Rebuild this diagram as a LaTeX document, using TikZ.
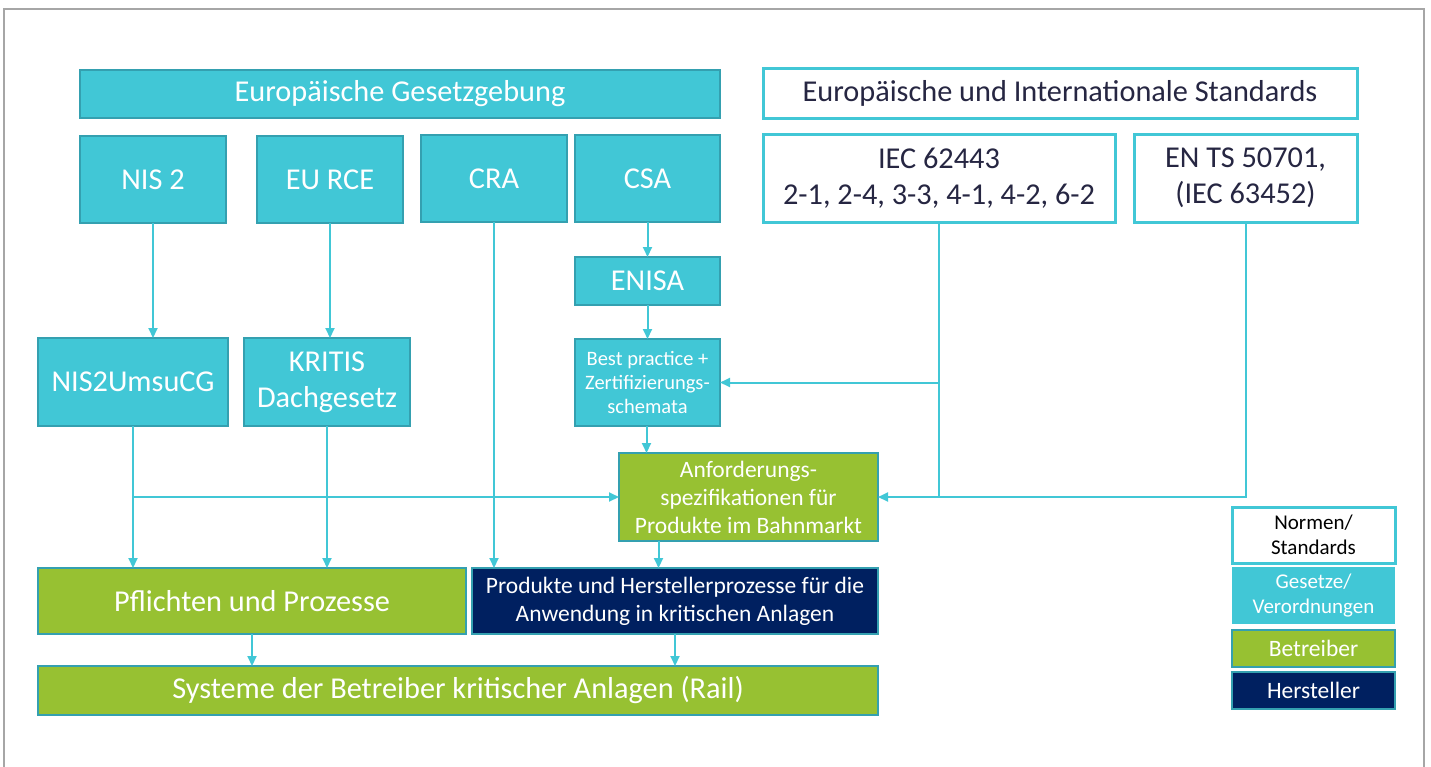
\documentclass[tikz,border=0pt]{standalone}
\usepackage{fontspec}
\setmainfont{Carlito}
\usetikzlibrary{arrows.meta}

\definecolor{lawcyan}{RGB}{65,199,214}
\definecolor{boxline}{RGB}{52,160,176}
\definecolor{opgreen}{RGB}{151,193,50}
\definecolor{mfrnavy}{RGB}{0,32,96}
\definecolor{normtext}{RGB}{38,38,66}
\definecolor{framegray}{RGB}{166,166,166}

\newcommand{\bigtext}{\fontsize{30.3}{36}\selectfont}
\newcommand{\midtext}{\fontsize{23.5}{28}\selectfont}
\newcommand{\smalltext}{\fontsize{20.5}{24}\selectfont}
\newcommand{\legendtext}{\fontsize{21}{25}\selectfont}
\newcommand{\legendbig}{\fontsize{23.5}{28}\selectfont}

\tikzset{
  box/.style={anchor=north west, inner sep=0pt, outer sep=0pt, align=center},
  law/.style={box, draw=boxline, line width=1.5pt, fill=lawcyan, text=white},
  norm/.style={box, draw=lawcyan, line width=3pt, fill=white, text=normtext},
  oper/.style={box, draw=boxline, line width=1.5pt, fill=opgreen, text=white},
  mfr/.style={box, draw=boxline, line width=1.5pt, fill=mfrnavy, text=white},
  link/.style={draw=lawcyan, line width=2pt}
}

\begin{document}
\begin{tikzpicture}[x=1pt, y=-1pt, >={Triangle[length=10pt,width=9pt]}]
  \useasboundingbox (0,0) rectangle (1431,766);
  \draw[framegray, line width=2pt] (4,775) -- (4,9) -- (1424,9) -- (1424,775);

  % legislation
  \node[law, minimum width=640, minimum height=48, font=\bigtext] (eulaw) at (80,70) {Europäische Gesetzgebung};
  \node[law, minimum width=146, minimum height=87, font=\bigtext] (nis) at (80,136) {NIS 2};
  \node[law, minimum width=146, minimum height=87, font=\bigtext] (rce) at (257,136) {EU RCE};
  \node[law, minimum width=146, minimum height=87, font=\bigtext] (cra) at (421,135) {CRA};
  \node[law, minimum width=145, minimum height=87, font=\bigtext] (csa) at (575,135) {CSA};
  \node[law, minimum width=145, minimum height=48, font=\bigtext] (enisa) at (575,257) {ENISA};
  \node[law, minimum width=145, minimum height=87, font=\smalltext] (best) at (575,339) {Best practice +\\Zertifizierungs-\\schemata};
  \node[law, minimum width=190, minimum height=88, font=\bigtext] (nisg) at (38,338) {NIS2UmsuCG};
  \node[law, minimum width=166, minimum height=88, font=\bigtext] (kritis) at (244,338) {KRITIS\\Dachgesetz};

  % standards
  \node[norm, minimum width=594, minimum height=50, font=\bigtext] (stds) at (763,68) {Europäische und Internationale Standards};
  \node[norm, minimum width=352, minimum height=88, font=\bigtext] (iec) at (763,134) {IEC 62443\\2-1, 2-4, 3-3, 4-1, 4-2, 6-2};
  \node[norm, minimum width=223, minimum height=88, font=\bigtext] (ents) at (1134,134) {EN TS 50701,\\(IEC 63452)};

  % operators and manufacturers
  \node[oper, minimum width=259, minimum height=88, font=\midtext] (anf) at (619,453) {Anforderungs-\\spezifikationen für\\Produkte im Bahnmarkt};
  \node[oper, minimum width=428, minimum height=66, font=\bigtext] (pfl) at (38,568) {Pflichten und Prozesse};
  \node[mfr, minimum width=406, minimum height=66, font=\midtext] (prod) at (472,568) {Produkte und Herstellerprozesse für die\\Anwendung in kritischen Anlagen};
  \node[oper, minimum width=840, minimum height=49, font=\bigtext] (sys) at (38,666) {Systeme der Betreiber kritischer Anlagen (Rail)};

  % legend
  \node[norm, text=black, minimum width=163, minimum height=56, font=\legendtext] (lnorm) at (1232,507) {Normen/\\Standards};
  \node[box, fill=lawcyan, text=white, minimum width=163, minimum height=57, font=\legendtext] (llaw) at (1232,567) {Gesetze/\\Verordnungen};
  \node[oper, minimum width=163, minimum height=37, font=\legendbig] (lop) at (1232,630) {Betreiber};
  \node[mfr, minimum width=163, minimum height=37, font=\legendbig] (lmfr) at (1232,672) {Hersteller};

  % connectors
  \draw[link, ->] (nis.south) -- (nis.south |- nisg.north);
  \draw[link, ->] (rce.south) -- (rce.south |- kritis.north);
  \draw[link, ->] (csa.south) -- (enisa.north);
  \draw[link, ->] (enisa.south) -- (best.north);
  \draw[link, ->] ([xshift=-1pt]best.south) -- ([xshift=-1pt]best.south |- anf.north);
  \draw[link, ->] (nisg.south) -- (nisg.south |- pfl.north);
  \draw[link, ->] (kritis.south) -- (kritis.south |- pfl.north);
  \draw[link, ->] (cra.south) -- (cra.south |- prod.north);
  \draw[link, ->] (nisg.south |- anf.west) -- (anf.west);
  \draw[link] (iec.south) -- (iec.south |- anf.east);
  \draw[link, ->] (iec.south |- best.east) -- (best.east);
  \draw[link, ->] (ents.south) |- (anf.east);
  \draw[link, ->] ([xshift=-90pt]anf.south) -- ([xshift=-90pt]anf.south |- prod.north);
  \draw[link, ->] (pfl.south) -- (pfl.south |- sys.north);
  \draw[link, ->] (prod.south) -- (prod.south |- sys.north);
\end{tikzpicture}
\end{document}
